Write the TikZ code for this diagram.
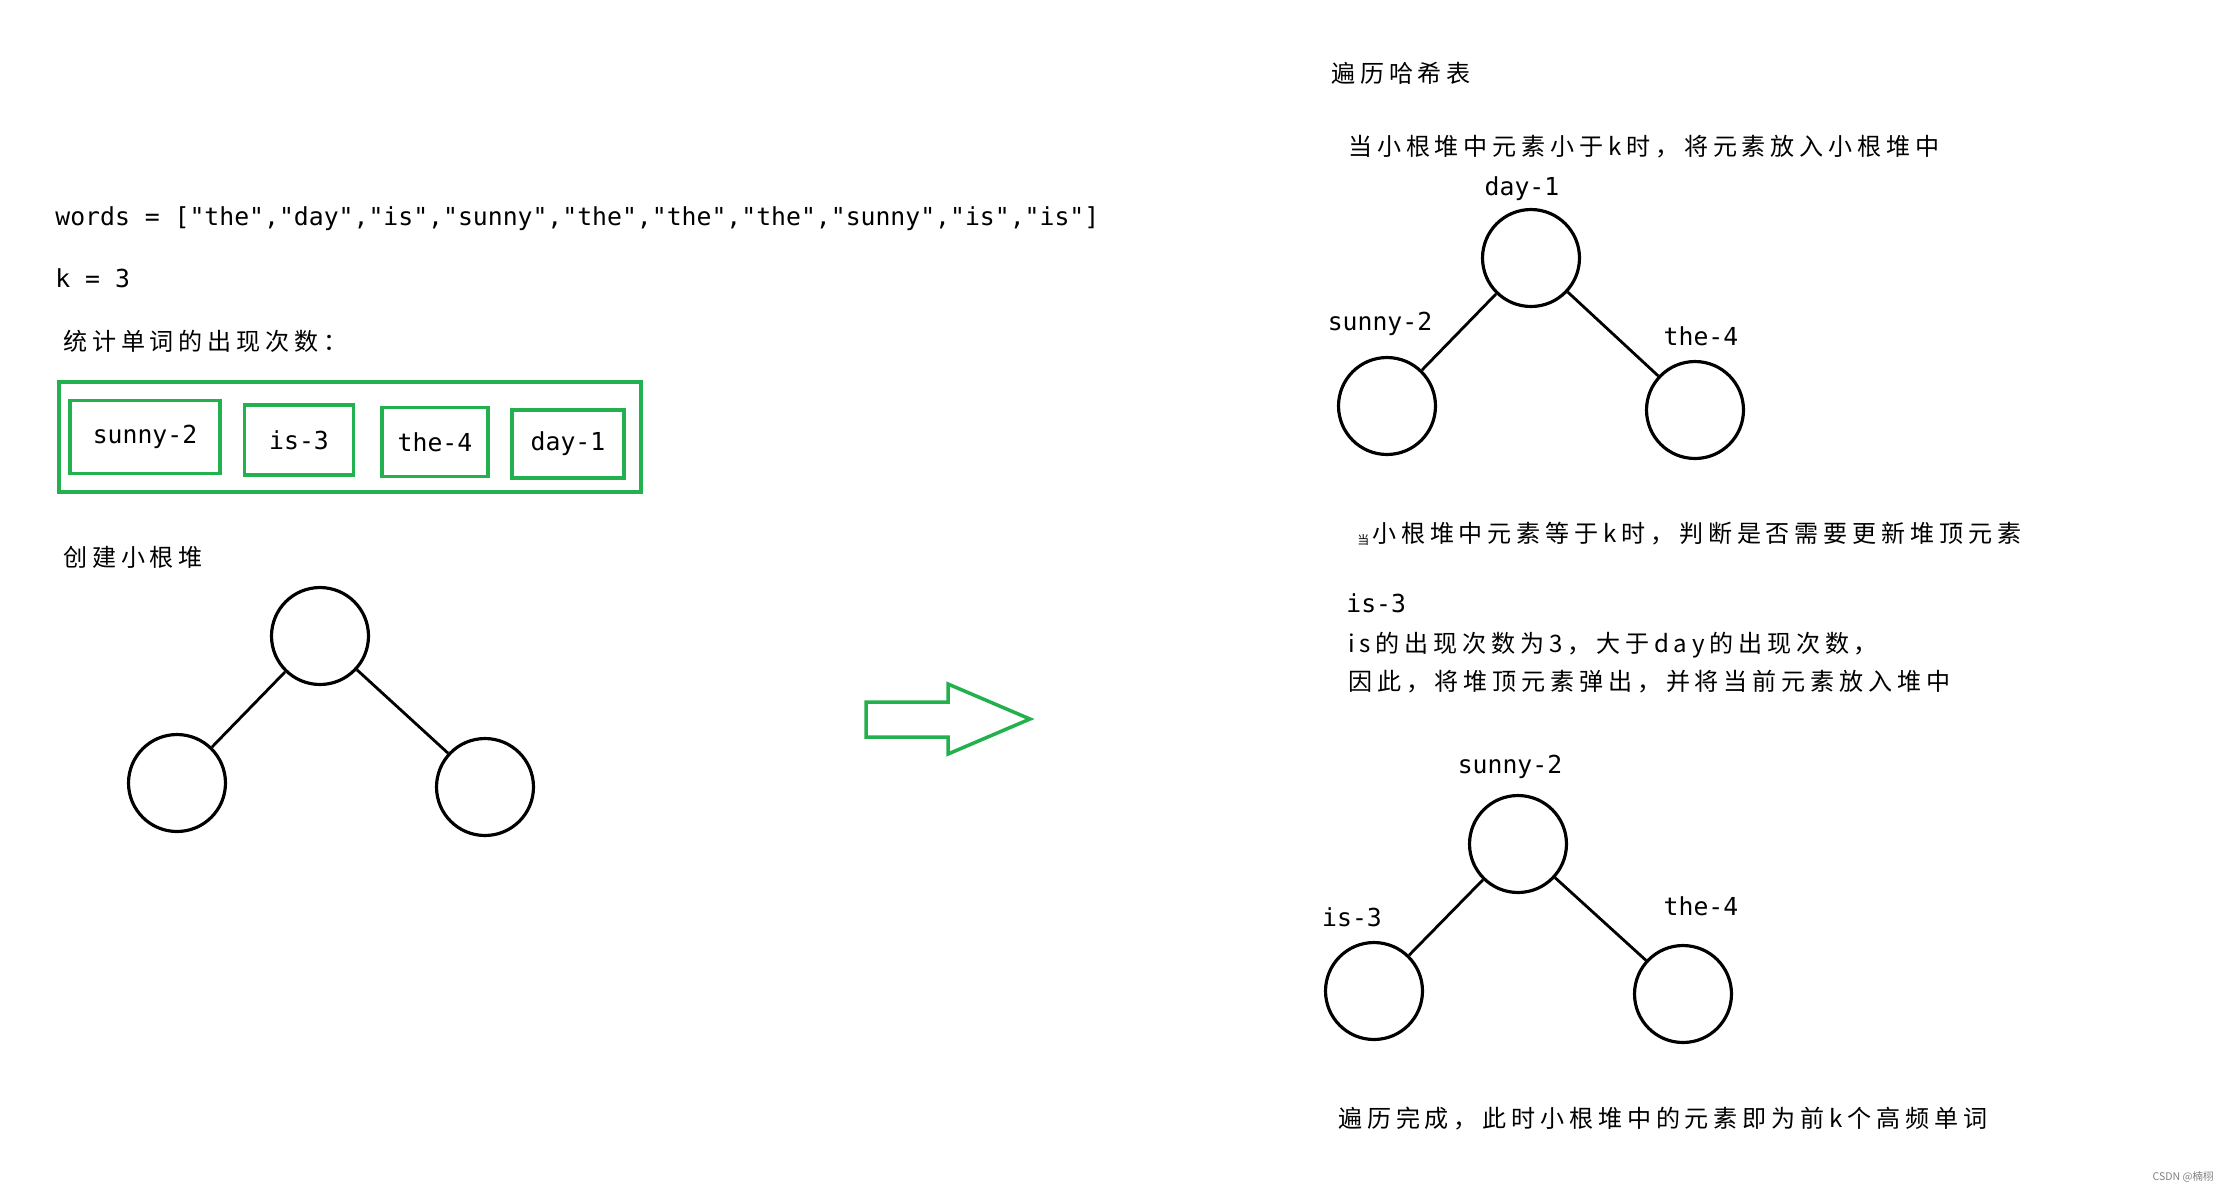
\documentclass[tikz,border=0pt]{standalone}
\usepackage{fontspec}
\usepackage{xcolor}
\usepackage{tikz}
\newfontfamily\hanzi[LetterSpace=20]{Noto Sans CJK SC}
\newfontfamily\markfont{Noto Sans CJK SC}
\newfontfamily\codefont{DejaVu Sans Mono}
\definecolor{paintgreen}{RGB}{34,177,76}
\def\pxu{0.02cm}
\tikzset{
  hz/.style={anchor=west, inner sep=0pt, font=\hanzi\fontsize{13.7pt}{16pt}\selectfont},
  code/.style={inner sep=0pt, font=\codefont\fontsize{14.1pt}{16pt}\selectfont},
  heapnode/.style={circle, draw, line width=1.8pt, minimum size=1.94cm, inner sep=0pt},
  heapedge/.style={line width=1.6pt},
  cntbox/.style={draw=paintgreen, line width=2pt, inner sep=0pt, font=\codefont\fontsize{14.1pt}{16pt}\selectfont}
}

\begin{document}
\begin{tikzpicture}[x=\pxu, y=-\pxu]
\useasboundingbox (0,0) rectangle (2228,1191);
% input and word counts
\node[code, anchor=west] (words) at (55,219) {words = ["the","day","is","sunny","the","the","the","sunny","is","is"]};
\node[code, anchor=west] (kval) at (55,278) {k = 3};
\node[hz] (cnttitle) at (63,341) {统计单词的出现次数：};
\node[draw=paintgreen, line width=2pt, minimum width=582*\pxu, minimum height=110*\pxu, inner sep=0pt] (cntframe) at (350,437) {};
\foreach \lbl/\cx/\cy/\w/\h [count=\i] in {sunny-2/145/437/150/73, is-3/299/440/109/70, the-4/435/442/106/69, day-1/568/444/112/68} {
    \node[cntbox, minimum width=\w*\pxu, minimum height=\h*\pxu] (cnt\i) at (\cx,\cy) {\lbl};
}
% empty heap
\node[hz] (heaptitle) at (63,557) {创建小根堆};
\node[heapnode] (h0) at (320,636) {};
\node[heapnode] (h1) at (177,783) {};
\node[heapnode] (h2) at (485,787) {};
\draw[heapedge] (h0) -- (h1) (h0) -- (h2);
% big arrow
\draw[paintgreen, line width=2pt] (866,702) -- (948,702) -- (948,684) -- (1030,719) -- (948,754) -- (948,737) -- (866,737) -- cycle;
% heap while filling
\node[hz] (scan) at (1331,73) {遍历哈希表};
\node[hz] (lessk) at (1348,147) {当小根堆中元素小于k时，将元素放入小根堆中};
\node[heapnode] (a0) at (1531,258) {};
\node[heapnode] (a1) at (1387,406) {};
\node[heapnode] (a2) at (1695,410) {};
\draw[heapedge] (a0) -- (a1) (a0) -- (a2);
\node[code] (la0) at (1522,189) {day-1};
\node[code] (la1) at (1380,324) {sunny-2};
\node[code] (la2) at (1701,336) {the-4};
% heap when full
\node[hz, font=\hanzi\fontsize{6.8pt}{8pt}\selectfont] (dang) at (1357,540) {当};
\node[hz] (eqk) at (1372,534) {小根堆中元素等于k时，判断是否需要更新堆顶元素};
\node[code, anchor=west] (cur) at (1346,603) {is-3};
\node[hz] (why1) at (1348,645) {is的出现次数为3，大于day的出现次数，};
\node[hz] (why2) at (1348,682) {因此，将堆顶元素弹出，并将当前元素放入堆中};
\node[heapnode] (b0) at (1518,844) {};
\node[heapnode] (b1) at (1374,991) {};
\node[heapnode] (b2) at (1683,994) {};
\draw[heapedge] (b0) -- (b1) (b0) -- (b2);
\node[code] (lb0) at (1510,767) {sunny-2};
\node[code] (lb1) at (1352,917) {is-3};
\node[code] (lb2) at (1701,906) {the-4};
\node[hz] (done) at (1338,1119) {遍历完成，此时小根堆中的元素即为前k个高频单词};
\node[anchor=east, inner sep=0pt, text=gray, font=\markfont\fontsize{6pt}{7pt}\selectfont] (mark) at (2214,1177) {CSDN @楠栩};
\end{tikzpicture}
\end{document}
